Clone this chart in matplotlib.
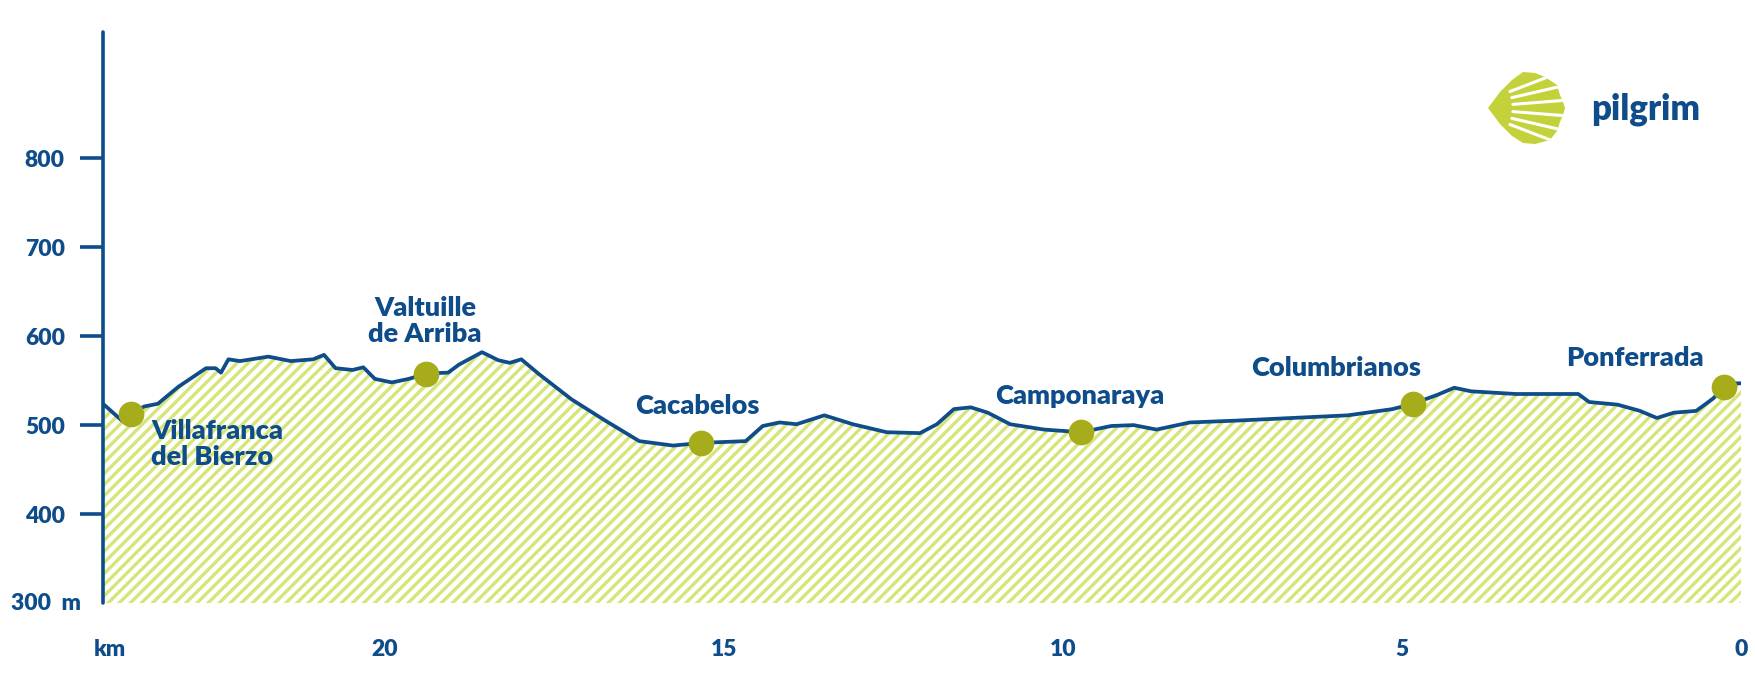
import math
import matplotlib.pyplot as plt
from matplotlib.patches import Polygon

# elevation profile, km to Ponferrada vs metres
km = [24.16, 23.88, 23.75, 23.55, 23.35, 23.05, 22.64, 22.50, 22.42, 22.31,
      22.14, 21.72, 21.39, 21.06, 20.90, 20.73, 20.48, 20.32, 20.15, 19.90,
      19.65, 19.39, 19.07, 18.91, 18.57, 18.33, 18.16, 17.99, 17.74, 17.25,
      16.75, 16.25, 15.75, 15.34, 15.01, 14.68, 14.43, 14.18, 13.93, 13.52,
      13.10, 12.60, 12.11, 11.86, 11.61, 11.36, 11.11, 10.78, 10.28, 9.73,
      9.29, 8.96, 8.62, 8.13, 7.46, 6.63, 5.80, 5.14, 4.84, 4.48,
      4.23, 3.98, 3.32, 2.40, 2.24, 1.82, 1.49, 1.24, 0.99, 0.66,
      0.41, 0.20, 0.0]
elev = [524, 505, 513, 521, 524, 543, 564, 564, 559, 574,
        572, 577, 572, 574, 579, 564, 562, 565, 552, 548,
        552, 558, 559, 568, 582, 573, 570, 574, 558, 529,
        505, 482, 477, 480, 481, 482, 499, 503, 501, 511,
        501, 492, 491, 501, 518, 520, 514, 501, 495, 492,
        499, 500, 495, 503, 505, 508, 511, 518, 524, 534,
        542, 538, 535, 535, 526, 523, 516, 508, 514, 516,
        530, 547, 547]

towns = ["Villafranca\ndel Bierzo", "Valtuille\nde Arriba", "Cacabelos",
         "Camponaraya", "Columbrianos", "Ponferrada"]
town_km = [23.75, 19.39, 15.34, 9.73, 4.84, 0.25]
town_elev = [513, 558, 480, 492, 524, 543]
# where the names sit
label_km = [23.45, 19.41, 15.40, 9.75, 5.97, 1.56]
label_elev = [479, 617, 521, 533, 564, 575]
label_ha = ["left", "center", "center", "center", "center", "center"]

yticks = [400, 500, 600, 700, 800]
xticks = [20, 15, 10, 5, 0]

blue = "#0f4c8a"
olive = "#a7ac1b"
lime = "#d6e57a"

plt.rcParams['font.family'] = ['Lato', 'DejaVu Sans']
plt.rcParams['font.weight'] = 'bold'
plt.rcParams['hatch.linewidth'] = 2.4

fig = plt.figure(figsize=(17.56, 6.85), dpi=100)
ax = fig.add_axes([103 / 1756, 82 / 685, 1638 / 1756, 571 / 685])

ax.fill_between(km, elev, 300, facecolor="white", hatch="///",
                edgecolor=lime, linewidth=0)
ax.plot(km, elev, color=blue, lw=2.7, solid_capstyle="round",
        solid_joinstyle="round")
ax.plot(town_km, town_elev, "o", ms=18.5, color=olive, mec="none", zorder=5)

for name, x, y, ha in zip(towns, label_km, label_elev, label_ha):
    ax.text(x, y, name, ha=ha, va="center", color=blue, fontsize=19.5,
            fontweight="heavy", linespacing=1.08, multialignment=ha)

ax.set_xlim(24.16, 0)
ax.set_ylim(300, 942)

for s in ["top", "right", "bottom"]:
    ax.spines[s].set_visible(False)
ax.spines["left"].set_color(blue)
ax.spines["left"].set_linewidth(2.6)
ax.spines["left"].set_capstyle("round")

ax.set_yticks(yticks)
ax.set_yticklabels([str(v) for v in yticks])
ax.tick_params(axis="y", length=16.5, width=2.6, color=blue, pad=11,
               labelsize=16.5, labelcolor=blue)
ax.set_xticks(xticks)
ax.set_xticklabels([str(v) for v in xticks])
ax.tick_params(axis="x", length=0, pad=26, labelsize=16.5, labelcolor=blue)
for lab in ax.get_xticklabels() + ax.get_yticklabels():
    lab.set_fontweight("heavy")

ax.annotate("300  m", xy=(0, 300), xycoords=("axes fraction", "data"),
            xytext=(-16, 0), textcoords="offset points", ha="right",
            va="center", color=blue, fontsize=16.5, fontweight="heavy")
ax.annotate("km", xy=(0.004, 0), xycoords="axes fraction",
            xytext=(0, -26), textcoords="offset points", ha="center",
            va="top", color=blue, fontsize=16.5, fontweight="heavy")

# logo: shell drawn in pixel units
lg = fig.add_axes([1460 / 1756, 525 / 685, 120 / 1756, 100 / 685])
lg.set_xlim(1460, 1580)
lg.set_ylim(160, 60)
lg.axis("off")
shell_pts = [(1488, 108), (1500, 92), (1512, 80), (1523, 72), (1535, 73),
             (1545, 77), (1557, 85), (1560, 95), (1563, 102), (1565, 108),
             (1563, 115), (1560, 122), (1557, 131), (1550, 140), (1535, 144),
             (1523, 143), (1512, 136), (1500, 124)]
shell = Polygon(shell_pts, closed=True, facecolor="#c3d23a", edgecolor="none")
lg.add_patch(shell)
ray_angles = [-21, -13, -4.5, 4.5, 13, 21]
for a in ray_angles:
    t = math.radians(a)
    x0, y0 = 1467 + 46 * math.cos(t), 108 + 46 * math.sin(t)
    x1, y1 = 1467 + 120 * math.cos(t), 108 + 120 * math.sin(t)
    ln, = lg.plot([x0, x1], [y0, y1], color="white", lw=2.2,
                  solid_capstyle="round")
    ln.set_clip_path(shell)

fig.text(1591 / 1756, 1 - 109 / 685, "pilgrim", ha="left", va="center",
         color=blue, fontsize=25, fontweight="heavy")

fig.savefig("out.png", dpi=100)
